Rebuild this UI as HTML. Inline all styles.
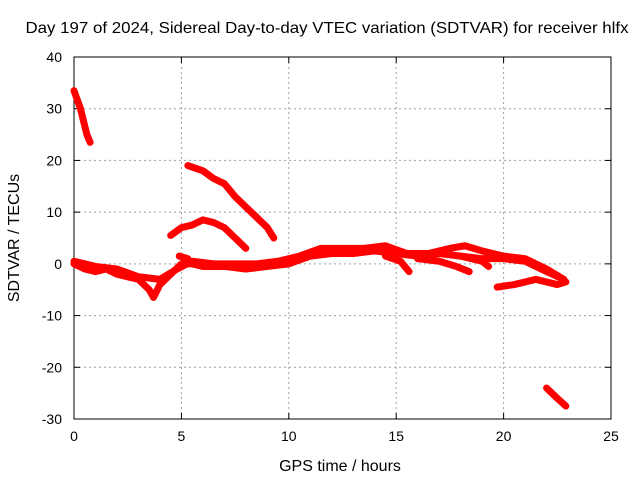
<!DOCTYPE html>
<html><head><meta charset="utf-8"><style>
body{margin:0;background:#fff;}
svg{display:block;font-family:"Liberation Sans",sans-serif;font-size:14px;}
</style></head><body>
<svg width="640" height="480">
<g id="grid"></g>
<g id="axes"></g>
<g id="series"></g>
<text x="327" y="33" text-anchor="middle" textLength="603" lengthAdjust="spacingAndGlyphs" style="font-size:16px">Day 197 of 2024, Sidereal Day-to-day VTEC variation (SDTVAR) for receiver hlfx</text>
<text x="340" y="471" text-anchor="middle" style="font-size:16px">GPS time / hours</text>
<text transform="translate(19,238) rotate(-90)" text-anchor="middle" style="font-size:16px">SDTVAR / TECUs</text>
</svg>
<script>
const xTicks=[0,5,10,15,20,25];
const yTicks=[-30,-20,-10,0,10,20,30,40];
const seriesMainLow=[[0,0],[0.5,-1],[1,-1.5],[1.5,-1],[2,-2],[2.5,-2.5],[3,-3],[3.5,-5],[3.7,-6.5],[4,-4],[4.5,-2],[5,0],[5.5,0],[6,-0.5],[7,-0.5],[8,-1],[9,-0.5],[10,0],[11,1.5],[12,2],[13,2],[14,2.5],[15,2],[16,1.5],[17,2],[18,1.5],[19,1],[20,1],[21,0.5],[22,-1.5],[22.8,-3]];
const seriesMainHigh=[[0,0.5],[1,-0.5],[2,-1],[3,-2.5],[4,-3],[4.8,-1],[5.5,0.5],[6.5,0],[7.5,0],[8.5,0],[9.5,0.5],[10.5,1.5],[11.5,3],[12.5,3],[13.5,3],[14.5,3.5],[15.5,2],[16.5,2],[17.5,3],[18.2,3.5],[19,2.5],[20,1.5],[21,1],[22,-1],[22.8,-3]];
const seriesBranch=[[14.5,1.5],[15.2,0.5],[15.6,-1.5]];
const seriesBranch2=[[16,1],[17,0.5],[17.8,-0.5],[18.4,-1.5]];
const seriesBranch3=[[18,1.5],[19,0.5],[19.3,-0.5]];
const seriesLowTail=[[19.7,-4.5],[20.5,-4],[21.5,-3],[22.5,-4],[22.9,-3.5]];
const seriesTop=[[0,33.5],[0.3,30],[0.6,25],[0.75,23.5]];
const seriesArc=[[4.5,5.5],[5,7],[5.5,7.5],[6,8.5],[6.5,8],[7,7],[7.5,5],[8,3]];
const seriesLine=[[5.3,19],[6,18],[6.5,16.5],[7,15.5],[7.5,13],[8,11],[8.5,9],[9,7],[9.3,5]];
const seriesShort=[[4.9,1.5],[5.3,1]];
const seriesBottom=[[22,-24],[22.5,-26],[22.9,-27.5]];
const allSeries=[seriesMainLow,seriesMainHigh,seriesBranch,seriesBranch2,seriesBranch3,seriesLowTail,seriesTop,seriesArc,seriesLine,seriesShort,seriesBottom];
const X0=74,X1=611,Y0=419,Y1=57;
const sx=v=>X0+(v-0)/25*(X1-X0);
const sy=v=>Y0-(v+30)/70*(Y0-Y1);
const NS="http://www.w3.org/2000/svg";
function mk(tag,attrs,parent){const e=document.createElementNS(NS,tag);for(const k in attrs)e.setAttribute(k,attrs[k]);parent.appendChild(e);return e;}
const grid=document.getElementById('grid'),axes=document.getElementById('axes'),ser=document.getElementById('series');
xTicks.forEach(t=>{const x=sx(t);
 if(t>0&&t<25){const l=mk('line',{x1:x,x2:x,y1:Y1,y2:Y0,stroke:'#a0a0a0','stroke-dasharray':'2,3'},grid);}
 mk('line',{x1:x,x2:x,y1:Y0,y2:Y0-6,stroke:'#000'},axes);mk('line',{x1:x,x2:x,y1:Y1,y2:Y1+6,stroke:'#000'},axes);
 const tx=mk('text',{x:x,y:Y0+22,'text-anchor':'middle'},axes);tx.textContent=t;
 });
yTicks.forEach(t=>{const y=sy(t);
 if(t>-30&&t<40){const l=mk('line',{x1:X0,x2:X1,y1:y,y2:y,stroke:'#a0a0a0','stroke-dasharray':'2,3'},grid);}
 mk('line',{x1:X0,x2:X0+6,y1:y,y2:y,stroke:'#000'},axes);mk('line',{x1:X1,x2:X1-6,y1:y,y2:y,stroke:'#000'},axes);
 const tx=mk('text',{x:X0-12,y:y+5,'text-anchor':'end'},axes);tx.textContent=t;
 });
const fr=mk('rect',{x:X0,y:Y1,width:X1-X0,height:Y0-Y1,fill:'none',stroke:'#000'},axes);

allSeries.forEach(s=>{
 const p=mk('polyline',{points:s.map(d=>sx(d[0])+','+sy(d[1])).join(' '),fill:'none',stroke:'#ff0000','stroke-width':7,'stroke-linejoin':'round','stroke-linecap':'round'},ser);
 
 
});
</script>
</body></html>
